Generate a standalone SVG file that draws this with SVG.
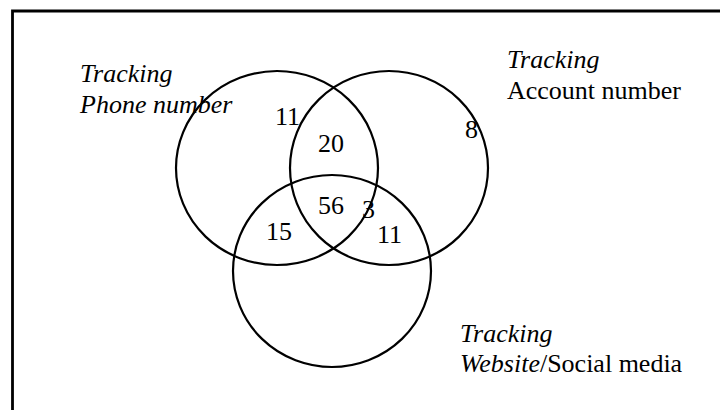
<svg xmlns="http://www.w3.org/2000/svg" width="720" height="410" viewBox="0 0 720 410">
<style>
.c{fill:none;stroke:#000;stroke-width:2.2}
text{font-family:"Liberation Serif","Times New Roman",serif;font-size:26px;fill:#000}
.i{font-style:italic}
</style>
<rect x="0" y="0" width="720" height="410" fill="#fff"/>
<path d="M12.5,420 V11 H730" fill="none" stroke="#000" stroke-width="2.8"/>
<g id="phone">
<ellipse class="c" cx="277" cy="168" rx="101" ry="97"/>
<text class="i" x="80" y="82">Tracking</text>
<text class="i" x="80" y="113">Phone number</text>
</g>
<g id="account">
<ellipse class="c" cx="389" cy="168" rx="99" ry="97"/>
<text class="i" x="507" y="68">Tracking</text>
<text x="507" y="99">Account number</text>
</g>
<g id="website">
<ellipse class="c" cx="332" cy="271" rx="99" ry="96"/>
<text class="i" x="460" y="342">Tracking</text>
<text x="460" y="372"><tspan class="i">Website</tspan>/Social media</text>
</g>
<g id="counts">
<text x="275" y="125">11</text>
<text x="318" y="152">20</text>
<text x="465" y="138">8</text>
<text x="318" y="214">56</text>
<text x="362" y="218">3</text>
<text x="266" y="240">15</text>
<text x="377" y="243">11</text>
</g>
</svg>
